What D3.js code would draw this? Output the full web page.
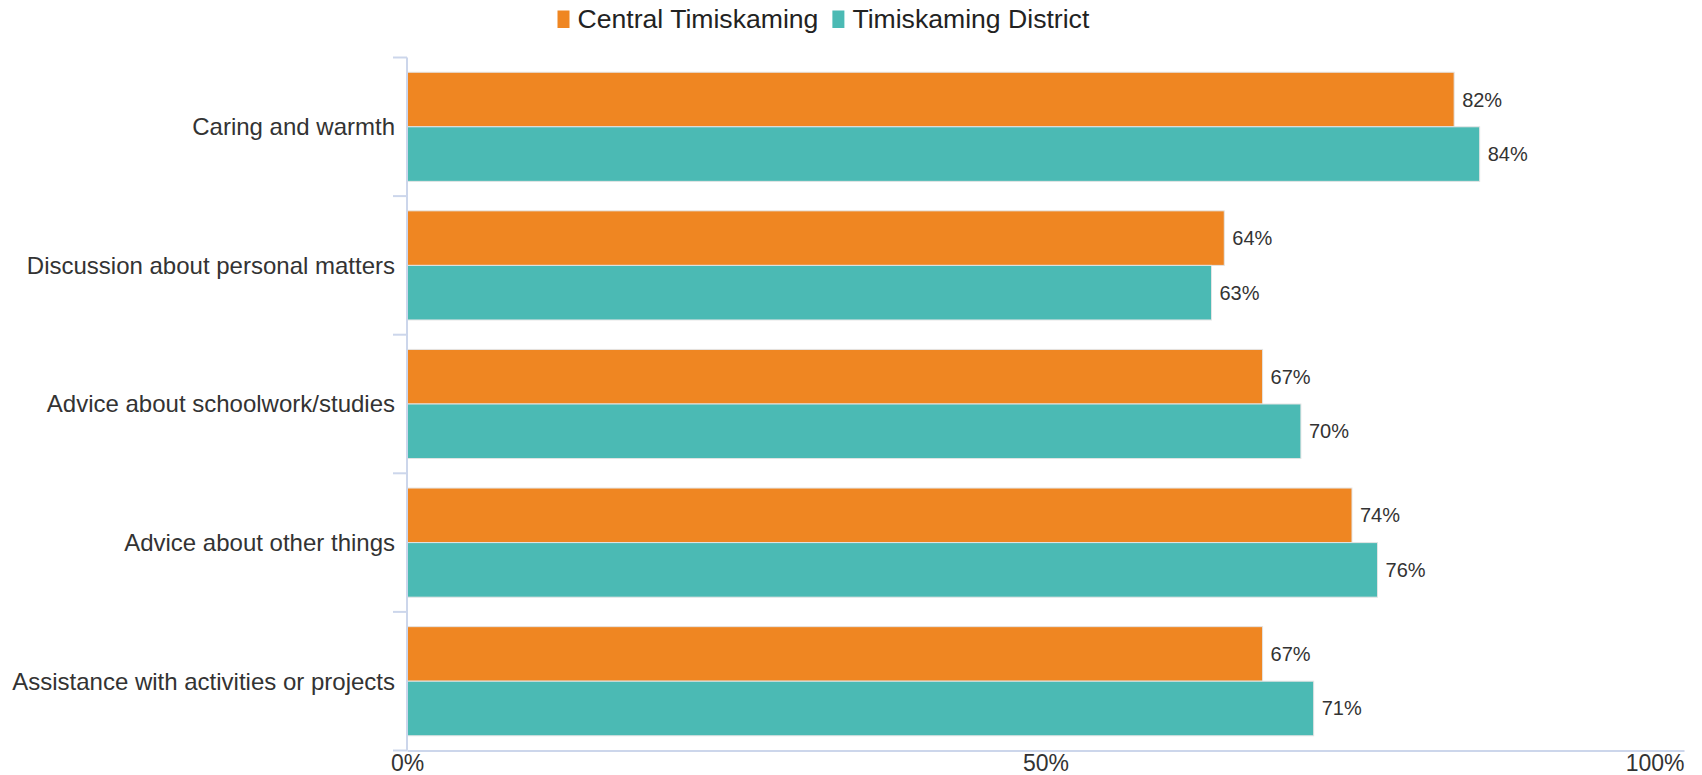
<!DOCTYPE html>
<html>
<head>
<meta charset="utf-8">
<script src="https://cdn.jsdelivr.net/npm/d3@7"></script>
<style>
  body { margin: 0; background: #fff; }
  svg { display: block; font-family: "Liberation Sans", Arial, sans-serif; }
</style>
</head>
<body>
<svg id="chart" width="1702" height="775"></svg>
<script>
const categories = [
  'Caring and warmth',
  'Discussion about personal matters',
  'Advice about schoolwork/studies',
  'Advice about other things',
  'Assistance with activities or projects'
];
const seriesNames = ['Central Timiskaming', 'Timiskaming District'];
const centralValues = [82, 64, 67, 74, 67];
const districtValues = [84, 63, 70, 76, 71];
const xTicks = [0, 50, 100];
const colors = ['#ef8622', '#4bbab4'];

const data = categories.map((c, i) => ({
  category: c,
  values: [
    {series: seriesNames[0], value: centralValues[i]},
    {series: seriesNames[1], value: districtValues[i]}
  ]
}));

const svg = d3.select('#chart');
const axisColor = '#ccd6eb';
const textColor = '#333';

const xScale = d3.scaleLinear()
  .domain([0, 100])
  .range([407, 1684]);

const yScale = d3.scaleBand()
  .domain(categories)
  .range([57.5, 750.5])
  .padding(0);

const ySub = d3.scaleBand()
  .domain(seriesNames)
  .range([0, yScale.bandwidth()])
  .paddingInner(0)
  .paddingOuter(0.27);

const colorScale = d3.scaleOrdinal().domain(seriesNames).range(colors);

// bars
const groups = svg.append('g').attr('class', 'bars')
  .selectAll('g').data(data).enter().append('g')
  .attr('transform', d => `translate(0,${yScale(d.category)})`);

groups.selectAll('rect').data(d => d.values).enter().append('rect')
  .attr('x', xScale(0))
  .attr('y', d => ySub(d.series))
  .attr('width', d => xScale(d.value) - xScale(0))
  .attr('height', ySub.bandwidth())
  .attr('fill', d => colorScale(d.series))
  .attr('stroke', '#e4e4e4')
  .attr('stroke-width', 1);

groups.selectAll('text').data(d => d.values).enter().append('text')
  .attr('x', d => xScale(d.value) + 8)
  .attr('y', d => ySub(d.series) + ySub.bandwidth() / 2)
  .attr('dy', '0.35em')
  .attr('font-size', 20)
  .attr('fill', textColor)
  .text(d => d.value + '%');

// y axis line + boundary ticks
const yAxisG = svg.append('g').attr('class', 'yAxis');
yAxisG.append('line')
  .attr('x1', xScale(0)).attr('x2', xScale(0))
  .attr('y1', yScale.range()[0]).attr('y2', yScale.range()[1])
  .attr('stroke', axisColor).attr('stroke-width', 2);

const bounds = categories.map(c => yScale(c)).concat([yScale.range()[1]]);
yAxisG.selectAll('.bound').data(bounds).enter().append('line')
  .attr('class', 'bound')
  .attr('x1', xScale(0) - 14).attr('x2', xScale(0))
  .attr('y1', d => d).attr('y2', d => d)
  .attr('stroke', axisColor).attr('stroke-width', 2);

yAxisG.selectAll('.cat').data(categories).enter().append('text')
  .attr('class', 'cat')
  .attr('x', 395)
  .attr('y', d => yScale(d) + yScale.bandwidth() / 2)
  .attr('dy', '0.35em')
  .attr('text-anchor', 'end')
  .attr('font-size', 24)
  .attr('fill', textColor)
  .text(d => d);

// x axis
const xAxis = d3.axisBottom(xScale)
  .tickValues(xTicks)
  .tickFormat(d => d + '%')
  .tickSize(0)
  .tickPadding(4);

const xAxisG = svg.append('g').attr('class', 'xAxis')
  .attr('transform', `translate(0,${yScale.range()[1]})`)
  .call(xAxis);

xAxisG.select('.domain').attr('stroke', axisColor).attr('stroke-width', 2);
xAxisG.selectAll('text')
  .attr('font-size', 23)
  .attr('fill', textColor)
  .attr('font-family', null);
xAxisG.selectAll('.tick').filter(d => d === 100).select('text')
  .attr('text-anchor', 'end');

// legend
const legend = svg.append('g').attr('class', 'legend');
let lx = 557.5;
seriesNames.forEach(name => {
  legend.append('rect')
    .attr('x', lx).attr('y', 10.5)
    .attr('width', 12).attr('height', 17.5)
    .attr('fill', colorScale(name));
  const t = legend.append('text')
    .attr('x', lx + 20).attr('y', 27.5)
    .attr('font-size', 26.6)
    .attr('fill', '#222')
    .text(name);
  lx += 20 + t.node().getComputedTextLength() + 14;
});
</script>
</body>
</html>
